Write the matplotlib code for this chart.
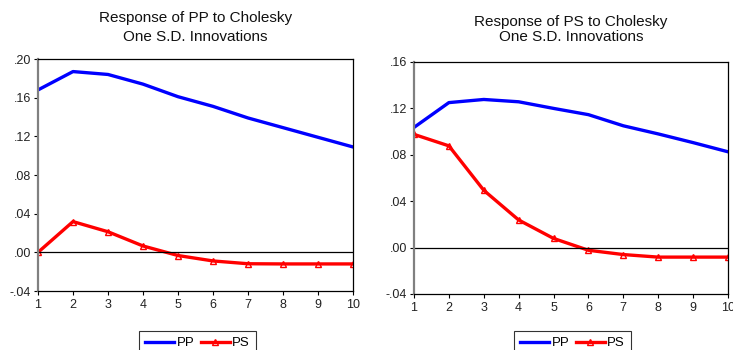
import matplotlib.pyplot as plt
from matplotlib.ticker import FuncFormatter

plt.rcParams['font.family'] = ['Liberation Sans', 'DejaVu Sans']

periods = [1, 2, 3, 4, 5, 6, 7, 8, 9, 10]

# Response of PP
pp_to_pp = [0.168, 0.187, 0.184, 0.174, 0.161, 0.151, 0.139, 0.129, 0.119, 0.109]
pp_to_ps = [0.000, 0.0318, 0.0213, 0.0066, -0.0033, -0.0089, -0.0118, -0.012, -0.012, -0.012]

# Response of PS
ps_to_pp = [0.1036, 0.125, 0.1277, 0.1257, 0.120, 0.1146, 0.105, 0.098, 0.0905, 0.0826]
ps_to_ps = [0.0976, 0.0877, 0.0494, 0.0238, 0.0079, -0.0023, -0.006, -0.0082, -0.0082, -0.0082]

left_ticks = [-0.04, 0.00, 0.04, 0.08, 0.12, 0.16, 0.20]
right_ticks = [-0.04, 0.00, 0.04, 0.08, 0.12, 0.16]


def eviews_fmt(v, pos):
    s = f"{v:.2f}"
    s = s.replace("0.", ".", 1)
    if s == "-.00":
        s = ".00"
    return s


W, H = 733, 350
fig = plt.figure(figsize=(W / 100, H / 100), dpi=100)

panels = [
    dict(rect=[38 / W, (H - 291) / H, 315 / W, 232 / H], pp=pp_to_pp, ps=pp_to_ps,
         ticks=left_ticks, title=["Response of PP to Cholesky", "One S.D. Innovations"],
         title_y=[18, 37], leg_x=(140 + 255) / 2 / W),
    dict(rect=[414 / W, (H - 294) / H, 314 / W, 232 / H], pp=ps_to_pp, ps=ps_to_ps,
         ticks=right_ticks, title=["Response of PS to Cholesky", "One S.D. Innovations"],
         title_y=[22, 37], leg_x=(515 + 630) / 2 / W),
]

for p in panels:
    ax = fig.add_axes(p["rect"])
    ax.plot(periods, p["pp"], color='#0000ff', lw=2.4, label='PP')
    ax.plot(periods, p["ps"], color='#ff0000', lw=2.4, marker='^', markersize=5,
            markerfacecolor='none', markeredgewidth=1.0, label='PS')
    ax.axhline(0, color='black', lw=0.9)
    ax.set_xlim(1, 10)
    ax.set_ylim(p["ticks"][0], p["ticks"][-1])
    ax.set_xticks(periods)
    ax.set_yticks(p["ticks"])
    ax.yaxis.set_major_formatter(FuncFormatter(eviews_fmt))
    ax.tick_params(direction='out', length=3, width=0.8, labelsize=9, pad=2,
                   labelcolor='#222222')
    ax.tick_params(axis='x', pad=3)
    for side in ['top', 'right', 'bottom']:
        ax.spines[side].set_color('black')
        ax.spines[side].set_linewidth(0.9)
    ax.spines['left'].set_color('#808080')
    ax.spines['left'].set_linewidth(1.6)

    cx = p["rect"][0] + p["rect"][2] / 2
    for line, ty in zip(p["title"], p["title_y"]):
        fig.text(cx, 1 - ty / H, line, ha='center', va='center', fontsize=11,
                 color='#111111')

    leg = ax.legend(loc='upper center', bbox_to_anchor=(p["leg_x"], 26 / H),
                    bbox_transform=fig.transFigure, ncol=2, fontsize=9.5,
                    frameon=True, fancybox=False, handlelength=2.2,
                    handletextpad=0.15, columnspacing=0.5, borderpad=0.5)
    leg.get_frame().set_edgecolor('black')
    leg.get_frame().set_linewidth(0.8)

fig.savefig('out.png', dpi=100)
